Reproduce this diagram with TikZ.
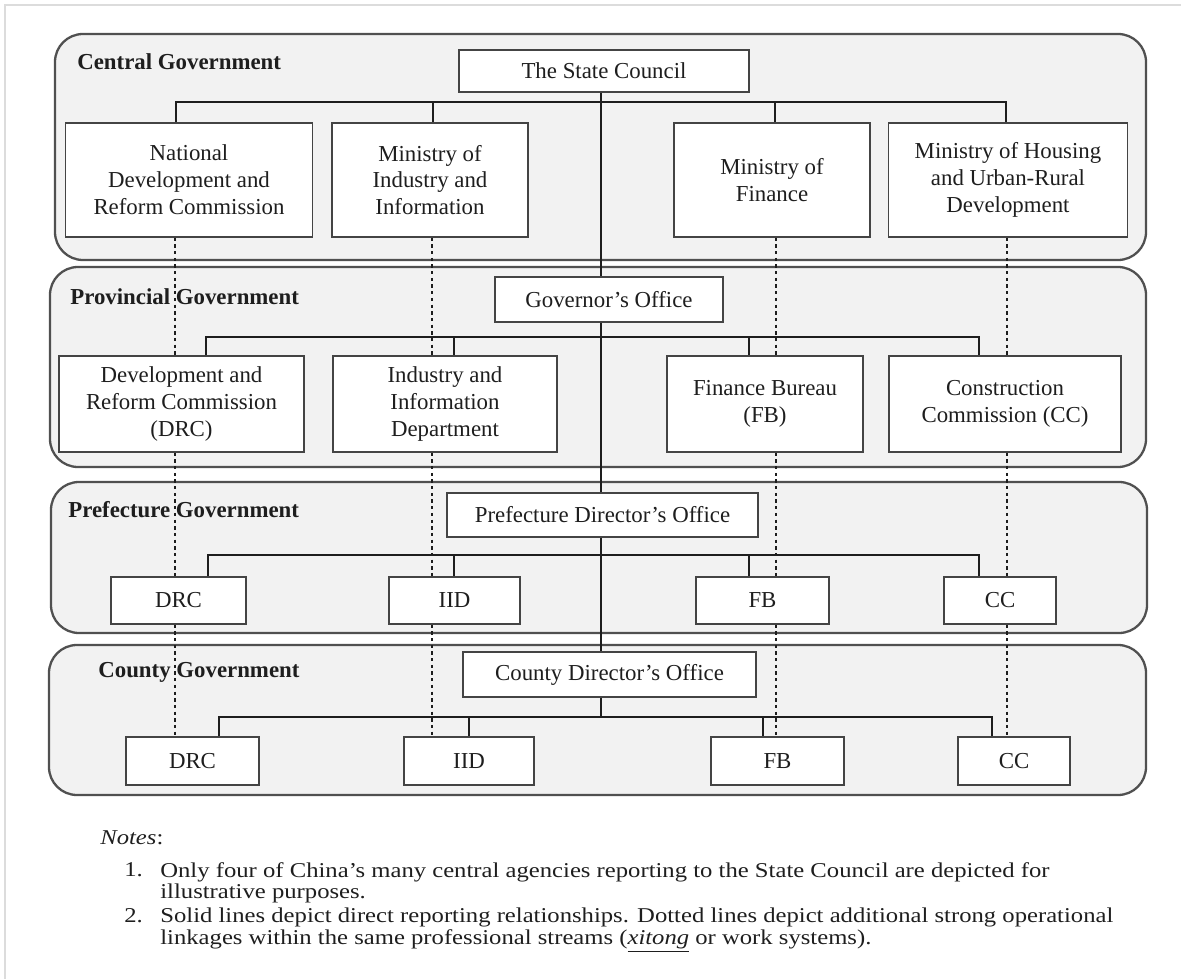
\documentclass[tikz,border=0pt]{standalone}
\usepackage{fontspec}
\setmainfont{Liberation Serif}
\newfontfamily\notefont[FakeStretch=1.17]{Liberation Serif}
\usepackage{tikz}
\usetikzlibrary{positioning,calc}
\definecolor{panelgrey}{HTML}{F2F2F2}
\definecolor{edgegrey}{HTML}{505050}
\definecolor{boxgrey}{HTML}{444444}
\definecolor{inkgrey}{HTML}{1E1E1E}
\definecolor{framegrey}{HTML}{DCDCDC}
\newcommand{\pxu}{0.02cm}
\tikzset{
  tier/.style={draw=edgegrey, line width=1.3pt, fill=panelgrey, rounded corners=0.56cm},
  tiername/.style={font=\fontsize{13}{15}\selectfont\bfseries, text=inkgrey,
                   anchor=west, inner sep=0pt},
  post/.style={draw=boxgrey, line width=0.85pt, fill=white, align=center,
               inner sep=2pt, text=inkgrey, font=\fontsize{13}{15.3}\selectfont},
  wd/.style={minimum width=#1*\pxu},
  ht/.style={minimum height=#1*\pxu},
  link/.style={draw=inkgrey, line width=0.85pt},
  dotlink/.style={draw=inkgrey, line width=0.85pt, dash pattern=on 1.9pt off 1.9pt},
  note/.style={font=\notefont\fontsize{12}{12.2}\selectfont, text=inkgrey, align=left,
               inner sep=0pt, anchor=north west},
}

\begin{document}
\begin{tikzpicture}[x=0.02cm, y=-0.02cm]
\useasboundingbox (0,0) rectangle (1181,979);
\draw[framegrey, line width=1.2pt] (5,979) -- (5,5) -- (1181,5);

% ---------- the four tiers -----------------------------------------------
\draw[tier] (55,34) rectangle (1146,260);
\draw[tier] (50,267) rectangle (1146,467);
\draw[tier] (51,482) rectangle (1147,633);
\draw[tier] (49,645) rectangle (1146,795);
\node[tiername] (tcen) at (77,62) {Central Government};
\node[tiername] (tprov) at (70,297) {Provincial Government};
\node[tiername] (tpref) at (68,510) {Prefecture Government};
\node[tiername] (tcnty) at (98,672) {County Government};

% ---------- offices on the spine -------------------------------------------
\node[post, wd=290, ht=42] (sc)  at (604,71)    {The State Council};
\node[post, wd=228, ht=45] (gov) at (609,299.5) {Governor’s Office};
\node[post, wd=311, ht=44] (pfo) at (602.5,515) {Prefecture Director’s Office};
\node[post, wd=293, ht=45] (cdo) at (609.5,674.5) {County Director’s Office};

% ---------- agencies, tier by tier ----------------------------------------
\node[post, wd=247, ht=114] (c1) at (189,180)  {National\\Development and\\Reform Commission};
\node[post, wd=196, ht=114] (c2) at (430,180)  {Ministry of\\Industry and\\Information};
\node[post, wd=196, ht=114] (c3) at (772,180)  {Ministry of\\Finance};
\node[post, wd=239, ht=114] (c4) at (1008,180) {Ministry of Housing\\and Urban-Rural\\Development};

\node[post, wd=245, ht=96] (p1) at (181.5,404) {Development and\\Reform Commission\\(DRC)};
\node[post, wd=224, ht=96] (p2) at (445,404)   {Industry and\\Information\\Department};
\node[post, wd=196, ht=96] (p3) at (765,404)   {Finance Bureau\\(FB)};
\node[post, wd=232, ht=96] (p4) at (1005,404)  {Construction\\Commission (CC)};

\node[post, wd=135, ht=47] (f1) at (178.5,600.5) {DRC};
\node[post, wd=131, ht=47] (f2) at (454.5,600.5) {IID};
\node[post, wd=133, ht=47] (f3) at (762.5,600.5) {FB};
\node[post, wd=112, ht=47] (f4) at (1000,600.5)  {CC};

\node[post, wd=133, ht=48] (k1) at (192.5,761) {DRC};
\node[post, wd=130, ht=48] (k2) at (469,761)   {IID};
\node[post, wd=133, ht=48] (k3) at (777.5,761) {FB};
\node[post, wd=112, ht=48] (k4) at (1014,761)  {CC};

% ---------- direct reporting (solid) ---------------------------------------
\coordinate (spine) at (601,0);
\draw[link] (sc.south -| spine) -- (gov.north -| spine);
\draw[link] (gov.south -| spine) -- (pfo.north -| spine);
\draw[link] (pfo.south -| spine) -- (cdo.north -| spine);
\draw[link] (cdo.south -| spine) -- (spine |- 0,717);
\foreach \tr/\y/\xa/\xb/\xc/\xd in {c/102/176/433/775/1006, p/337/206/454/749/979,
                                    f/555/208/454/749/979, k/717/219/469/763/992}{
  \draw[link] (\tr1.north -| \xa,0) -- (\xa,\y) -- (\xd,\y) -- (\tr4.north -| \xd,0);
  \draw[link] (\xb,\y) -- (\tr2.north -| \xb,0);
  \draw[link] (\xc,\y) -- (\tr3.north -| \xc,0);
}

% ---------- same professional stream (dotted) ------------------------------
\foreach \i/\x in {1/175,2/432,3/776,4/1007}{
  \draw[dotlink] (c\i.south -| \x,0) -- (p\i.north -| \x,0);
  \draw[dotlink] (p\i.south -| \x,0) -- (f\i.north -| \x,0);
  \draw[dotlink] (f\i.south -| \x,0) -- (k\i.north -| \x,0);
}

% ---------- notes ----------------------------------------------------------
\node[note] (nhead) at (100,830) {\textit{Notes}:};
\node[note] (nno1) at (124,862) {1.};
\node[note] (ntxt1) at (160,862)
  {Only four of China’s many central agencies reporting to the State Council are depicted for\\
   illustrative purposes.};
\node[note] (nno2) at (124,908) {2.};
\node[note] (ntxt2) at (160,908)
  {Solid lines depict direct reporting relationships. Dotted lines depict additional strong operational\\
   linkages within the same professional streams (\underline{\textit{xitong}} or work systems).};
\end{tikzpicture}
\end{document}
